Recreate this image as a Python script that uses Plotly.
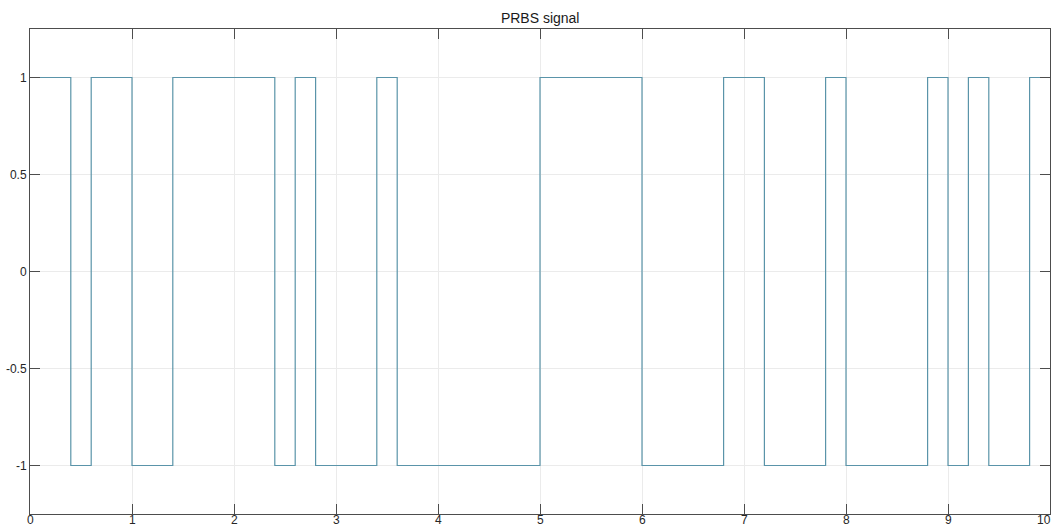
import plotly.graph_objects as go

# Switching instants of the PRBS signal (s) and the level held from each instant
switch_times = [0.0, 0.4, 0.6, 1.0, 1.4, 2.4, 2.6, 2.8, 3.4, 3.6, 5.0,
                6.0, 6.8, 7.2, 7.8, 8.0, 8.8, 9.0, 9.2, 9.4, 9.8, 10.0]
levels = [1, -1, 1, -1, 1, -1, 1, -1, 1, -1, 1,
          -1, 1, -1, 1, -1, 1, -1, 1, -1, 1, 1]

x_ticks = list(range(0, 11))
x_tick_text = [str(v) for v in x_ticks]
y_ticks = [-1, -0.5, 0, 0.5, 1]
y_tick_text = ["-1", "-0.5", "0", "0.5", "1"]

FONT = "Liberation Sans, Arial, sans-serif"

fig = go.Figure()
fig.add_trace(go.Scatter(
    x=switch_times, y=levels, mode="lines", line_shape="hv",
    line=dict(color="#5a94a9", width=1.2), showlegend=False,
))

axis_common = dict(
    showline=True, linecolor="#4d4d4d", linewidth=1, mirror="ticks",
    ticks="inside", ticklen=10, tickcolor="#4d4d4d", tickwidth=1,
    showgrid=True, gridcolor="#ebebeb", gridwidth=1,
    zeroline=False, automargin=False,
    tickfont=dict(family=FONT, size=12, color="#262626"),
)

# x tick labels are drawn as annotations so they sit in the narrow bottom strip
fig.update_xaxes(range=[0, 10], tickvals=x_ticks, showticklabels=False, **axis_common)
fig.update_yaxes(range=[-1.25, 1.25], tickvals=y_ticks, ticktext=y_tick_text, **axis_common)

for i, (xv, label) in enumerate(zip(x_ticks, x_tick_text)):
    last = i == len(x_ticks) - 1
    fig.add_annotation(
        x=xv, xref="x", y=0, yref="paper", text=label, showarrow=False,
        xanchor="right" if last else "center", yanchor="bottom", yshift=-15,
        xshift=3 if last else 0,
        font=dict(family=FONT, size=12, color="#262626"),
    )

fig.update_layout(
    width=1054, height=529,
    margin=dict(l=30, r=4, t=29, b=15),
    paper_bgcolor="white", plot_bgcolor="white",
    title=dict(text="PRBS signal", x=0.5125, xanchor="center", y=1 - 18 / 529, yanchor="middle",
               font=dict(family=FONT, size=14, color="#1a1a1a")),
)

fig.write_html("out.html")
